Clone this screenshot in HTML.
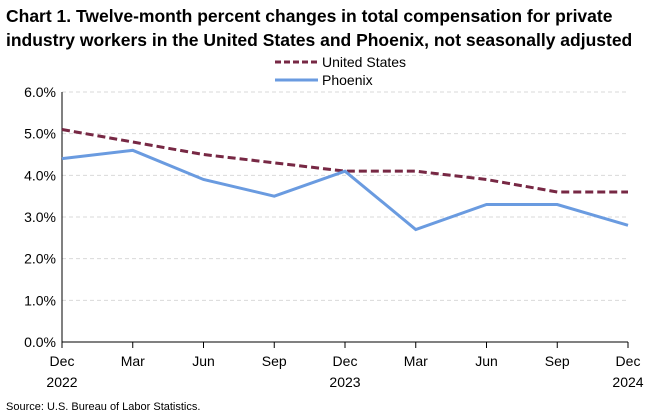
<!DOCTYPE html>
<html><head><meta charset="utf-8"><style>
body{margin:0;background:#fff;font-family:"Liberation Sans",Arial,sans-serif}
svg text{font-family:"Liberation Sans",Arial,sans-serif}
</style></head><body>
<svg id="chart" width="668" height="413" viewBox="0 0 668 413">
<text x="6" y="22" font-size="17.5" font-weight="bold" fill="#000">Chart 1. Twelve-month percent changes in total compensation for private</text>
<text x="6" y="46" font-size="17.5" font-weight="bold" fill="#000">industry workers in the United States and Phoenix, not seasonally adjusted</text>
<g>
<line x1="275" y1="62" x2="318" y2="62" stroke="#772844" stroke-width="3" stroke-dasharray="6,3"/>
<text x="322" y="67" font-size="14">United States</text>
<line x1="275" y1="80" x2="318" y2="80" stroke="#6a9be0" stroke-width="3"/>
<text x="322" y="85" font-size="14">Phoenix</text>
</g>
<g id="grid"></g><g id="axes"></g><g id="series"></g>
<text x="6" y="410" font-size="11">Source: U.S. Bureau of Labor Statistics.</text>
</svg>
<script>
const categories=["Dec|2022","Mar","Jun","Sep","Dec|2023","Mar","Jun","Sep","Dec|2024"];
const usValues=[5.1,4.8,4.5,4.3,4.1,4.1,3.9,3.6,3.6];
const phoenixValues=[4.4,4.6,3.9,3.5,4.1,2.7,3.3,3.3,2.8];
const yTicks=[0,1,2,3,4,5,6];
const yTickLabels=["0.0%","1.0%","2.0%","3.0%","4.0%","5.0%","6.0%"];
const NS="http://www.w3.org/2000/svg";
const x0=62,x1=628,y0=342,y1=92;
const xs=i=>x0+(x1-x0)*i/(categories.length-1);
const ys=v=>y0-(y0-y1)*v/6;
function mk(t,a,p){const e=document.createElementNS(NS,t);for(const k in a)e.setAttribute(k,a[k]);p.appendChild(e);return e;}
const grid=document.getElementById('grid'),axes=document.getElementById('axes'),series=document.getElementById('series');
yTicks.forEach((v,i)=>{
 if(v>0){const g=mk('line',{x1:x0,x2:x1,y1:ys(v),y2:ys(v),stroke:'#d9d9d9','stroke-dasharray':'4,3'},grid);
 
 }
 const t=mk('text',{x:x0-6,y:ys(v)+5,'font-size':14,'text-anchor':'end'},axes);t.textContent=yTickLabels[i];
 
 
});
const ya=mk('line',{x1:x0,x2:x0,y1:y1,y2:y0,stroke:'#000'},axes);


const xa=mk('line',{x1:x0,x2:x1,y1:y0,y2:y0,stroke:'#000'},axes);


categories.forEach((c,i)=>{
 const tk=mk('line',{x1:xs(i),x2:xs(i),y1:y0,y2:y0+6,stroke:'#000'},axes);
 
 
 c.split('|').forEach((s,j)=>{const t=mk('text',{x:xs(i),y:y0+24+j*21,'font-size':14,'text-anchor':'middle'},axes);t.textContent=s;
 
 });
});
function line(vals,attrs,name){const p=mk('polyline',Object.assign({points:vals.map((v,i)=>xs(i)+','+ys(v)).join(' '),fill:'none','stroke-width':3},attrs),series);
 
 }
line(usValues,{stroke:'#772844','stroke-dasharray':'8,4'},'us-line');
line(phoenixValues,{stroke:'#6a9be0'},'phoenix-line');
</script>
</body></html>
